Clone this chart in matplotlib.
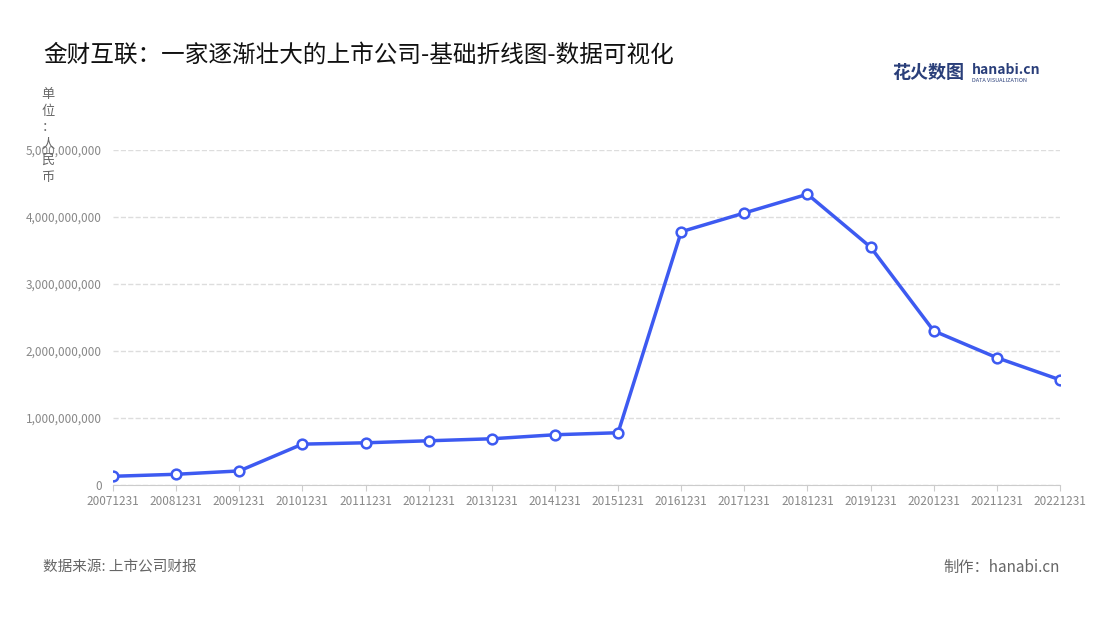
import matplotlib.pyplot as plt

plt.rcParams['font.family'] = ['Noto Sans CJK SC', 'DejaVu Sans']

# Data
dates = ['20071231', '20081231', '20091231', '20101231', '20111231', '20121231',
         '20131231', '20141231', '20151231', '20161231', '20171231', '20181231',
         '20191231', '20201231', '20211231', '20221231']
revenue = [0.13e9, 0.16e9, 0.21e9, 0.61e9, 0.63e9, 0.66e9, 0.69e9, 0.75e9,
           0.78e9, 3.78e9, 4.06e9, 4.34e9, 3.55e9, 2.30e9, 1.90e9, 1.57e9]
yticks = [0, 1e9, 2e9, 3e9, 4e9, 5e9]

fig = plt.figure(figsize=(11, 6.2), dpi=100)
ax = fig.add_axes([113/1100, 1 - 485/620, (1060-113)/1100, (485-150)/620])

x = range(len(dates))
ax.plot(x, revenue, color='#3d5af1', linewidth=2.5, marker='o', markersize=7,
        markerfacecolor='white', markeredgecolor='#3d5af1', markeredgewidth=1.8, zorder=3)

ax.set_xlim(0, len(dates) - 1)
ax.set_ylim(0, 5e9)
ax.set_xticks(list(x))
ax.set_xticklabels(dates, fontsize=8.5, color='#888888')
ax.set_yticks(yticks)
ax.set_yticklabels([f'{int(v):,}' for v in yticks], fontsize=8.5, color='#888888')
ax.tick_params(axis='y', length=0, pad=8)
ax.tick_params(axis='x', length=4, color='#cccccc')
ax.grid(axis='y', linestyle='--', color='#dddddd', linewidth=1)
for s in ['top', 'right', 'left']:
    ax.spines[s].set_visible(False)
ax.spines['bottom'].set_color('#cccccc')

fig.text(43/1100, 1 - 55/620, '金财互联：一家逐渐壮大的上市公司-基础折线图-数据可视化',
         fontsize=17, color='#111111', va='center')
fig.text(48/1100, 1 - 88/620, '单\n位\n：\n人\n民\n币', fontsize=9.5, color='#666666',
         va='top', ha='center', linespacing=1.35)
fig.text(43/1100, 1 - 567/620, '数据来源: 上市公司财报', fontsize=10.5, color='#666666', va='center')
fig.text(1060/1100, 1 - 567/620, '制作：hanabi.cn', fontsize=11, color='#666666',
         va='center', ha='right')
fig.text(892/1100, 1 - 72/620, '花火数图', fontsize=13, color='#2a3f7a', va='center',
         fontweight='bold')
fig.text(972/1100, 1 - 70/620, 'hanabi.cn', fontsize=10, color='#2a3f7a', va='center',
         fontweight='bold')
fig.text(972/1100, 1 - 80/620, 'DATA VISUALIZATION', fontsize=4, color='#2a3f7a', va='center')

fig.savefig('out.png', dpi=100)
